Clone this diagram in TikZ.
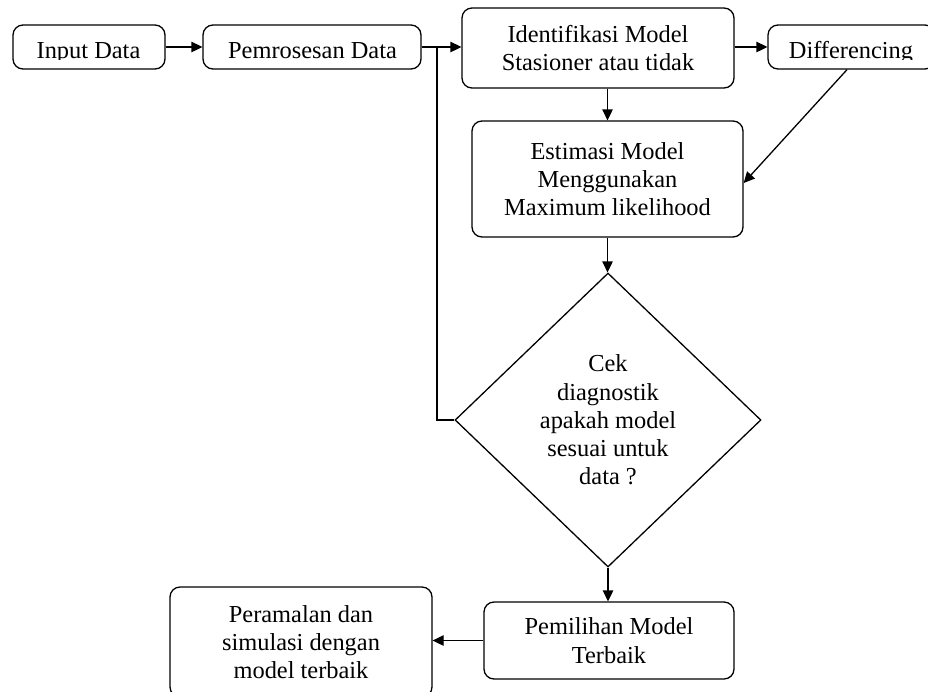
\documentclass[tikz,border=0pt]{standalone}
\usepackage{fontspec}
\setmainfont{Liberation Serif}
\usetikzlibrary{arrows.meta,shapes.geometric}
\begin{document}
\begin{tikzpicture}[x=1pt,y=-1pt,
  box/.style={draw, line width=1.3pt, rounded corners=10pt, inner sep=0pt,
    font=\fontsize{24.4}{28.3}\selectfont, align=center},
  lbl/.style={font=\fontsize{24.4}{28.3}\selectfont, inner sep=0pt, anchor=base},
  conn/.style={draw, line width=1.3pt, -{Triangle[length=11pt,width=10.5pt]}},
  plain/.style={draw, line width=1.3pt}]
\useasboundingbox (0,0) rectangle (928,691);
% top row boxes
\node[box, minimum width=152pt, minimum height=44pt] (in) at (89,47) {};
\node[box, minimum width=218pt, minimum height=44pt] (pre) at (312,47) {};
\node[box, minimum width=167pt, minimum height=44pt] (diff) at (851.5,47) {};
\begin{scope}
  \clip (0,0) rectangle (928,59.5);
  \node[lbl] (intxt) at (88.5,58) {Input Data};
  \node[lbl] (pretxt) at (312.5,58) {Pemrosesan Data};
  \node[lbl] (difftxt) at (851,58) {Differencing};
\end{scope}
\node[box, minimum width=272pt, minimum height=80pt] (iden) at (598,48)
  {Identifikasi Model\\Stasioner atau tidak};
\node[box, minimum width=271pt, minimum height=116pt] (est) at (607.5,179)
  {Estimasi Model\\Menggunakan\\Maximum likelihood};
\node[diamond, draw, line width=1.3pt, inner sep=0pt, minimum width=306pt,
  minimum height=294pt, font=\fontsize{24.4}{28.3}\selectfont, align=center]
  (dia) at (608,420) {Cek\\diagnostik\\apakah model\\sesuai untuk\\data ?};
\node[box, minimum width=250pt, minimum height=77pt] (pil) at (609,640.5)
  {Pemilihan Model\\Terbaik};
\node[box, minimum width=262pt, minimum height=110pt] (per) at (301,642)
  {Peramalan dan\\simulasi dengan\\model terbaik};
% connectors
\coordinate (jn) at (437,47);
\draw[conn] (in) -- (pre);
\draw[conn] (pre.east) -- (pre.east -| iden.west);
\draw[conn] (iden.east |- diff.west) -- (diff.west);
\draw[conn] (iden.south -| est.north) -- (est.north);
\draw[conn] ([xshift=-4.5pt]diff.south) -- ([yshift=-4pt]est.east);
\draw[conn] (est.south) -- (est.south |- dia.north);
\draw[conn] (dia.south) -- (dia.south |- pil.north);
\draw[conn] (pil.west) -- (pil.west -| per.east);
\draw[plain] (dia.west) -| (jn);
\end{tikzpicture}
\end{document}
